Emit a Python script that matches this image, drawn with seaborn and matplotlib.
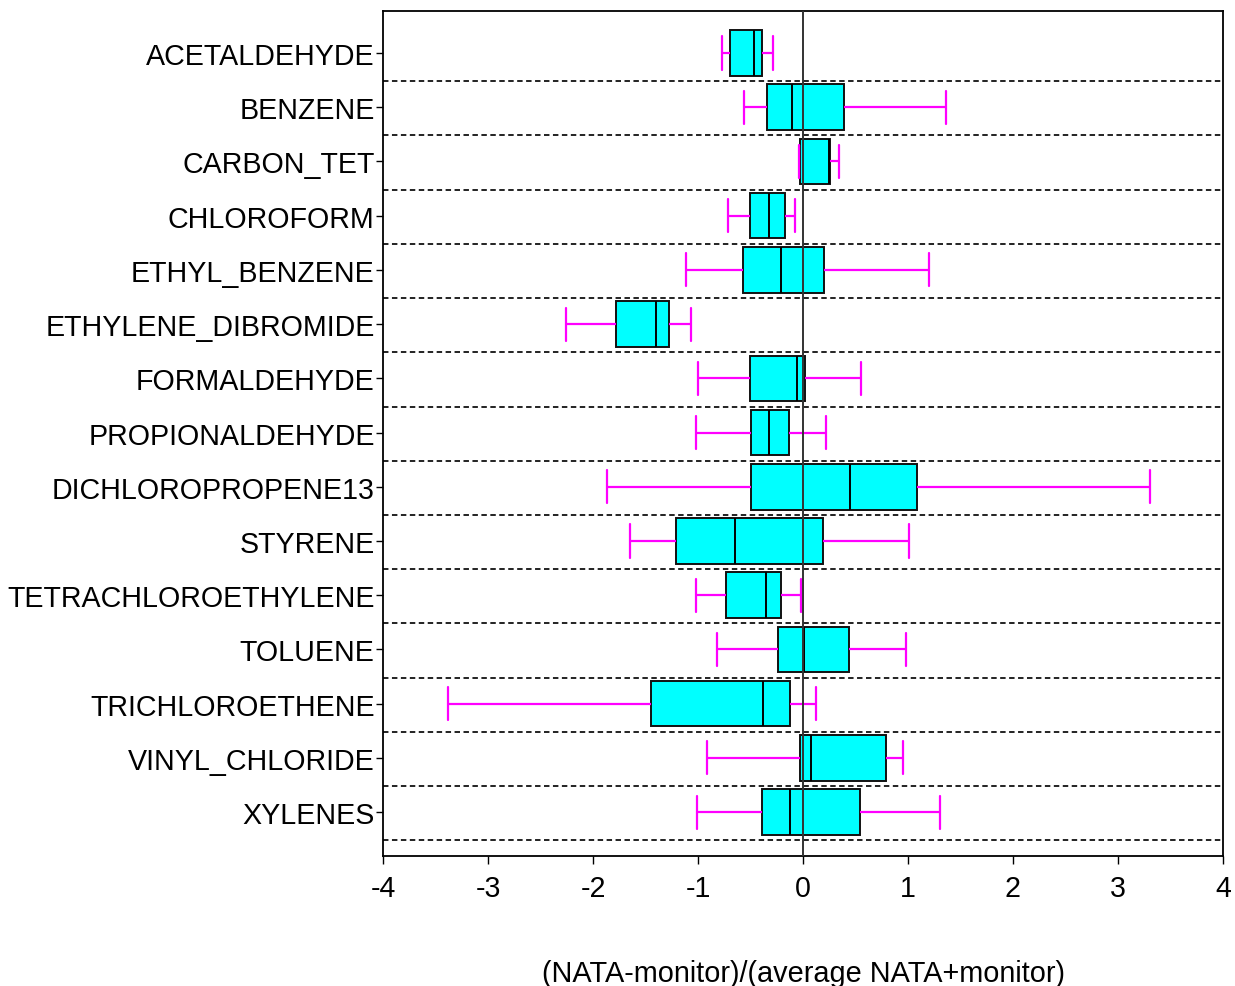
import numpy as np
import pandas as pd
import matplotlib
matplotlib.use("Agg")
import matplotlib.pyplot as plt
import seaborn as sns

categories = ["ACETALDEHYDE", "BENZENE", "CARBON_TET", "CHLOROFORM", "ETHYL_BENZENE",
              "ETHYLENE_DIBROMIDE", "FORMALDEHYDE", "PROPIONALDEHYDE", "DICHLOROPROPENE13",
              "STYRENE", "TETRACHLOROETHYLENE", "TOLUENE", "TRICHLOROETHENE",
              "VINYL_CHLORIDE", "XYLENES"]
whisker_low = [-0.77, -0.56, -0.04, -0.71, -1.11, -2.26, -1.00, -1.02, -1.87,
               -1.65, -1.02, -0.82, -3.38, -0.91, -1.01]
q1 = [-0.695, -0.346, -0.032, -0.508, -0.575, -1.781, -0.508, -0.498, -0.495,
      -1.21, -0.733, -0.238, -1.444, -0.032, -0.392]
median = [-0.47, -0.108, 0.244, -0.327, -0.21, -1.403, -0.054, -0.327, 0.449,
          -0.645, -0.356, 0.005, -0.379, 0.08, -0.12]
q3 = [-0.394, 0.387, 0.254, -0.168, 0.203, -1.273, 0.022, -0.136, 1.089,
      0.192, -0.213, 0.438, -0.12, 0.788, 0.539]
whisker_high = [-0.289, 1.362, 0.346, -0.08, 1.203, -1.067, 0.552, 0.219, 3.307,
                1.01, -0.016, 0.981, 0.125, 0.954, 1.305]
x_ticks = [-4, -3, -2, -1, 0, 1, 2, 3, 4]
x_label = "(NATA-monitor)/(average NATA+monitor)"

# long-form table: five summary values per category give exact quartiles
rows = []
for i, c in enumerate(categories):
    for v in (whisker_low[i], q1[i], median[i], q3[i], whisker_high[i]):
        rows.append({"category": c, "value": v})
df = pd.DataFrame(rows)

sns.set_theme(style="ticks")
plt.rcParams["font.family"] = ["Liberation Sans", "DejaVu Sans"]
for key in ["text.color", "axes.labelcolor", "xtick.color", "ytick.color",
            "xtick.labelcolor", "ytick.labelcolor", "axes.edgecolor"]:
    plt.rcParams[key] = "black"

fig = plt.figure(figsize=(12.35, 9.87), dpi=100)
ax = fig.add_axes([383 / 1235, 1 - 857 / 987, (1223 - 383) / 1235, (857 - 12) / 987])

# dashed separators
for k in range(len(categories)):
    ax.axhline(k + 0.52, color="#222222", lw=1.4, ls=(0, (2.8, 1.8)), zorder=0.5)

sns.boxplot(data=df, x="value", y="category", order=categories, ax=ax,
            orient="h", width=0.84, whis=(0, 100), color="#00FFFF", saturation=1,
            linewidth=1.4, fliersize=0, capwidths=0.61,
            boxprops={"edgecolor": "#111111", "facecolor": "#00FFFF"},
            medianprops={"color": "#000000"},
            whiskerprops={"color": "#FF00FF", "linewidth": 1.6},
            capprops={"color": "#FF00FF", "linewidth": 1.6},
            zorder=2)

ax.axvline(0, color="#333333", lw=1.4, zorder=5)

ax.set_xlim(-4, 4)
ax.set_ylim(14.81, -0.775)
ax.set_xticks(x_ticks)
ax.set_xticklabels([str(t) for t in x_ticks])
ax.set_ylabel("")
ax.set_xlabel(x_label, fontsize=20.8, labelpad=41, color="black")
ax.tick_params(axis="y", labelsize=20.6, length=5, width=1, pad=1, direction="out",
               colors="black")
ax.tick_params(axis="x", labelsize=20.6, length=6, width=1, pad=7, direction="out",
               colors="black")
for s in ax.spines.values():
    s.set_visible(True)
    s.set_color("black")
    s.set_linewidth(1.3)

fig.savefig("out.png", dpi=100)
